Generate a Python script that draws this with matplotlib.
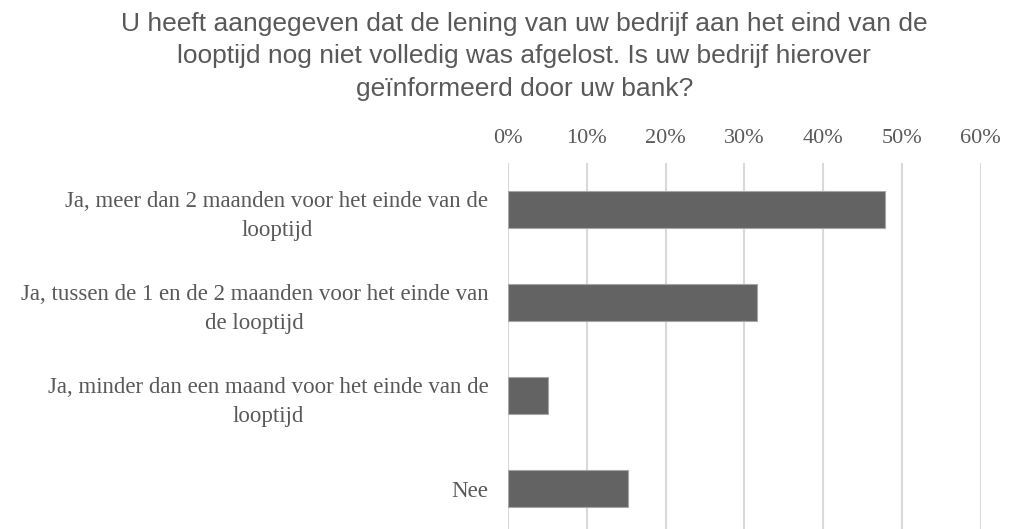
import matplotlib.pyplot as plt
from matplotlib.ticker import FuncFormatter

# survey answers and share of respondents
categories = [
    'Ja, meer dan 2 maanden voor het einde van de\nlooptijd',
    'Ja, tussen de 1 en de 2 maanden voor het einde van\nde looptijd',
    'Ja, minder dan een maand voor het einde van de\nlooptijd',
    'Nee',
]
shares = [0.479, 0.316, 0.051, 0.153]
x_ticks = [0.0, 0.1, 0.2, 0.3, 0.4, 0.5, 0.6]

title = ('U heeft aangegeven dat de lening van uw bedrijf aan het eind van de\n'
         'looptijd nog niet volledig was afgelost. Is uw bedrijf hierover\n'
         'geïnformeerd door uw bank?')

fig = plt.figure(figsize=(10.26, 5.29), dpi=100)
ax = fig.add_axes([0.495, -0.012, 0.461, 0.704])

pos = list(range(len(categories)))
ax.barh(pos, shares, height=0.4, color='#636363', edgecolor='#a6a6a6', linewidth=0.8, zorder=3)

ax.set_xlim(0, 0.6)
ax.set_ylim(len(categories) - 0.5, -0.5)
ax.set_xticks(x_ticks)
ax.xaxis.set_major_formatter(FuncFormatter(lambda v, _: f'{v * 100:.0f}%'))
ax.xaxis.tick_top()
ax.set_yticks(pos)
ax.set_yticklabels(categories, multialignment='center', linespacing=1.5)

ax.grid(axis='x', color='#d9d9d9', linewidth=1.5, zorder=0)
for s in ax.spines.values():
    s.set_visible(False)
ax.tick_params(axis='both', length=0, labelcolor='#595959', labelsize=16)
ax.tick_params(axis='y', labelsize=16.5)
ax.tick_params(axis='x', pad=11)
ax.tick_params(axis='y', pad=14)
for lbl in ax.get_xticklabels() + ax.get_yticklabels():
    lbl.set_family('Liberation Serif')

fig.text(0.511, 0.978, title, ha='center', va='top', fontsize=19,
         family='Liberation Sans', color='#595959', linespacing=1.45)

fig.savefig('out.png', dpi=100)
